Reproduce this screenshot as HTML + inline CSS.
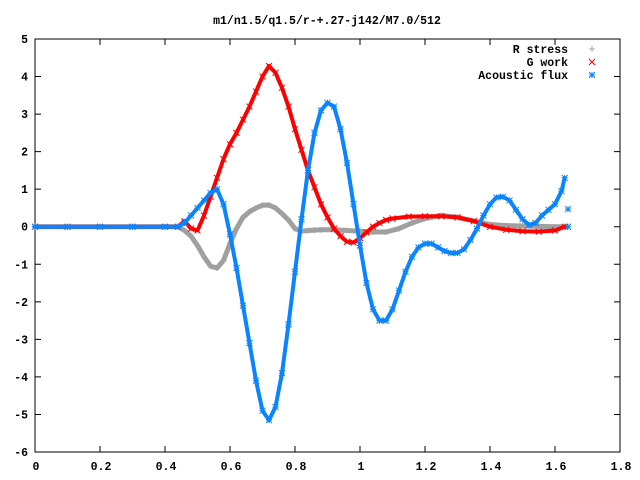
<!DOCTYPE html>
<html><head><meta charset="utf-8"><style>
html,body{margin:0;padding:0;background:#fff;}
svg{display:block;font-family:"Liberation Mono",monospace;font-weight:bold;font-size:11.5px;}
</style></head><body>
<svg id="chart" width="640" height="480" viewBox="0 0 640 480">
<rect width="640" height="480" fill="#fff"/>
<text x="327" y="24" text-anchor="middle">m1/n1.5/q1.5/r-+.27-j142/M7.0/512</text>
<g id="axes"></g>
<g id="series"></g>
<g id="legend"></g>
</svg>
<script>
const xTicks=[0,0.2,0.4,0.6,0.8,1,1.2,1.4,1.6,1.8];
const xTickLabels=["0","0.2","0.4","0.6","0.8","1","1.2","1.4","1.6","1.8"];
const yTicks=[5,4,3,2,1,0,-1,-2,-3,-4,-5,-6];
const yTickLabels=["5","4","3","2","1","0","-1","-2","-3","-4","-5","-6"];
const seriesNames=["R stress","G work","Acoustic flux"];
const rX=[0,0.1,0.2,0.3,0.4,0.44,0.46,0.48,0.50,0.52,0.54,0.56,0.58,0.60,0.62,0.64,0.66,0.68,0.70,0.72,0.74,0.76,0.78,0.80,0.82,0.84,0.86,0.88,0.92,0.96,1.00,1.04,1.08,1.12,1.16,1.20,1.25,1.30,1.35,1.40,1.45,1.50,1.55,1.60,1.63];
const rY=[0,0,0,0,0,0,-0.1,-0.25,-0.5,-0.8,-1.05,-1.1,-0.9,-0.45,-0.05,0.25,0.4,0.5,0.57,0.58,0.5,0.35,0.18,-0.05,-0.12,-0.1,-0.09,-0.08,-0.08,-0.1,-0.12,-0.14,-0.14,-0.05,0.1,0.22,0.3,0.25,0.15,0.06,0.03,0.02,0.01,0,0];
const gX=[0,0.1,0.2,0.3,0.4,0.44,0.46,0.48,0.50,0.52,0.54,0.56,0.58,0.60,0.62,0.64,0.66,0.68,0.70,0.72,0.74,0.76,0.78,0.80,0.82,0.84,0.86,0.88,0.90,0.92,0.94,0.96,0.98,1.00,1.02,1.04,1.06,1.08,1.10,1.15,1.20,1.25,1.30,1.35,1.40,1.45,1.50,1.55,1.60,1.63];
const gY=[0,0,0,0,0,0,0.15,-0.05,-0.1,0.3,0.8,1.3,1.8,2.2,2.5,2.85,3.2,3.6,4.0,4.28,4.1,3.7,3.2,2.6,2.05,1.5,1.05,0.6,0.25,-0.05,-0.25,-0.4,-0.42,-0.3,-0.15,0,0.1,0.18,0.22,0.27,0.28,0.28,0.25,0.15,0,-0.08,-0.12,-0.13,-0.1,0];
const aX=[0,0.1,0.2,0.3,0.4,0.44,0.46,0.48,0.50,0.52,0.54,0.56,0.58,0.60,0.62,0.64,0.66,0.68,0.70,0.72,0.74,0.76,0.78,0.80,0.82,0.84,0.86,0.88,0.90,0.92,0.94,0.96,0.98,1.00,1.02,1.04,1.06,1.08,1.10,1.12,1.14,1.16,1.18,1.20,1.22,1.24,1.26,1.28,1.30,1.32,1.34,1.36,1.38,1.40,1.42,1.44,1.46,1.48,1.50,1.52,1.54,1.56,1.58,1.60,1.62,1.63];
const aY=[0,0,0,0,0,0,0.1,0.3,0.5,0.7,0.9,1.0,0.6,-0.2,-1.1,-2.1,-3.1,-4.1,-4.9,-5.15,-4.8,-3.9,-2.6,-1.2,0.2,1.5,2.5,3.1,3.3,3.2,2.6,1.7,0.6,-0.5,-1.5,-2.2,-2.5,-2.5,-2.2,-1.7,-1.2,-0.8,-0.55,-0.45,-0.45,-0.55,-0.65,-0.7,-0.7,-0.6,-0.35,-0.05,0.3,0.6,0.78,0.8,0.7,0.45,0.2,0.05,0.1,0.3,0.45,0.6,0.95,1.3];
const aExtraX=[1.64,1.64];
const aExtraY=[0.47,0];

const L=35,R=620,T=39,B=452;
const sx=v=>L+(v-0)/(1.8-0)*(R-L);
const sy=v=>B-(v-(-6))/(5-(-6))*(B-T);
const NS="http://www.w3.org/2000/svg";
function mk(tag,parent,attrs){const e=document.createElementNS(NS,tag);for(const k in attrs)e.setAttribute(k,attrs[k]);parent.appendChild(e);return e;}
const axes=document.getElementById('axes');
const frame=mk('rect',axes,{x:L,y:T,width:R-L,height:B-T,fill:'none',stroke:'#000','stroke-width':1});


xTicks.forEach((t,i)=>{const x=sx(t);
 const tk=mk('path',axes,{d:`M${x} ${B}v-6M${x} ${T}v6`,stroke:'#000','stroke-width':1});
 
 
 const lb=mk('text',axes,{x:x+1,y:B+18,'text-anchor':'middle'});lb.textContent=xTickLabels[i];
 
 
});
yTicks.forEach((t,i)=>{const y=sy(t);
 const tk=mk('path',axes,{d:`M${L} ${y}h6M${R} ${y}h-6`,stroke:'#000','stroke-width':1});
 
 
 const lb=mk('text',axes,{x:L-7,y:y+4,'text-anchor':'end'});lb.textContent=yTickLabels[i];
 
 
});
function marker(g,type,x,y,col){
 let d;
 if(type==='plus')d=`M${x-3} ${y}h6M${x} ${y-3}v6`;
 else if(type==='cross')d=`M${x-3} ${y-3}l6 6M${x-3} ${y+3}l6 -6`;
 else d=`M${x-3} ${y}h6M${x} ${y-3}v6M${x-3} ${y-3}l6 6M${x-3} ${y+3}l6 -6`;
 return mk('path',g,{d:d,stroke:col,'stroke-width':1,fill:'none'});
}
const ser=document.getElementById('series');
function drawSeries(xs,ys,type,col,name,w){
 const g=mk('g',ser,{});
 
 
 const pts=xs.map((x,i)=>sx(x).toFixed(1)+','+sy(ys[i]).toFixed(1)).join(' ');
 const pl=mk('polyline',g,{points:pts,fill:'none',stroke:col,'stroke-width':w,'stroke-linejoin':'round','stroke-linecap':'round'});
 
 
 xs.forEach((x,i)=>{const m=marker(g,type,sx(x),sy(ys[i]),col);
  
  });
 return g;
}
drawSeries(rX,rY,'plus','#a0a0a0','r-stress-series',5);
drawSeries(gX,gY,'cross','#ff0000','g-work-series',4);
const ag=drawSeries(aX,aY,'star','#0a84ff','acoustic-flux-series',4);
aExtraX.forEach((x,i)=>{const m=marker(ag,'star',sx(x),sy(aExtraY[i]),'#0a84ff');
 
 });
const leg=document.getElementById('legend');
const cols=['#a0a0a0','#ff0000','#0a84ff'],types=['plus','cross','star'];
seriesNames.forEach((n,i)=>{const y=49+i*13;
 const g=mk('g',leg,{});
 
 
 const t=mk('text',g,{x:568,y:y+4,'text-anchor':'end'});t.textContent=n;
 
 
 const m=marker(g,types[i],592,y,cols[i]);
 
 
});
</script>
</body></html>
